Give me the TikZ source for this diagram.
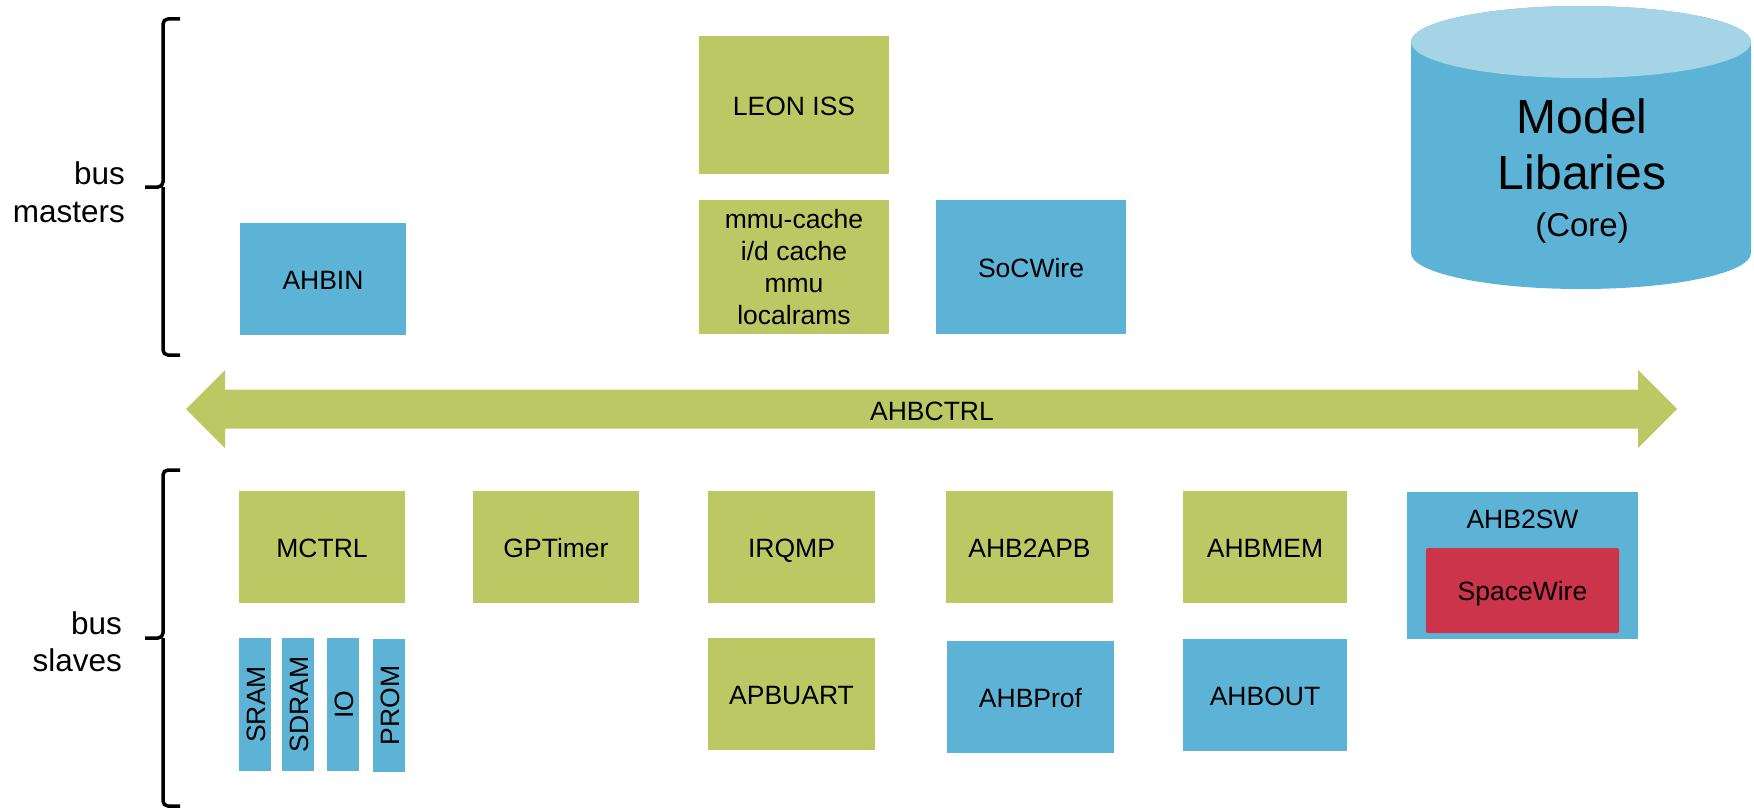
\documentclass[tikz,border=0pt]{standalone}
\usepackage{fontspec}
\setmainfont{Liberation Sans}
\definecolor{boxgreen}{RGB}{188,200,99}
\definecolor{boxblue}{RGB}{92,179,214}
\definecolor{boxred}{RGB}{204,52,76}
\definecolor{cyltop}{RGB}{164,212,229}
\tikzset{
  base/.style={inner sep=0pt, outer sep=0pt, font=\fontsize{26.5}{31.7}\selectfont},
  one/.style={base, text height=20pt, text depth=0pt},
  gbox/.style={one, fill=boxgreen},
  bbox/.style={one, fill=boxblue},
  brace/.style={draw=black, line width=3.5pt, rounded corners=5pt},
  sidelabel/.style={anchor=east, align=right, inner sep=0pt, font=\fontsize{31.5}{37.5}\selectfont}
}
\begin{document}
\begin{tikzpicture}[x=1pt,y=-1pt]
\useasboundingbox (0,0) rectangle (1754,808);

% bus masters
\node[gbox, minimum width=190, minimum height=138] (leon) at (794,105) {LEON ISS};
\node[base, fill=boxgreen, align=center, minimum width=190, minimum height=134] (mmu) at (794,267) {mmu-cache\\i/d cache\\mmu\\localrams};
\node[bbox, minimum width=190, minimum height=134] (socwire) at (1031,267) {SoCWire};
\node[bbox, minimum width=166, minimum height=112] (ahbin) at (323,279) {AHBIN};

% model libraries cylinder
\fill[boxblue] (1411,42) -- (1411,253) arc[start angle=180, end angle=0, x radius=170, y radius=36]
  -- (1751,42) arc[start angle=0, end angle=-180, x radius=170, y radius=36] -- cycle;
\fill[cyltop] (1581,42) ellipse[x radius=170, y radius=36];
\node[inner sep=0pt, align=center, font=\fontsize{48}{56}\selectfont] (modellib) at (1582,171.5)
  {Model\\Libaries\\[-9pt]{\fontsize{33}{40}\selectfont (Core)}};

% AHBCTRL bus arrow
\fill[boxgreen] (186,409) -- (225,370) -- (225,389.5) -- (1638,389.5) -- (1638,370) -- (1677,409)
  -- (1638,448) -- (1638,428.5) -- (225,428.5) -- (225,448) -- cycle;
\node[one] (ahbctrl) at (932,410) {AHBCTRL};

% bus slaves, first row
\node[gbox, minimum width=166, minimum height=112] (mctrl) at (322,547) {MCTRL};
\node[gbox, minimum width=166, minimum height=112] (gptimer) at (556,547) {GPTimer};
\node[gbox, minimum width=167, minimum height=112] (irqmp) at (791.5,547) {IRQMP};
\node[gbox, minimum width=167, minimum height=112] (ahb2apb) at (1029.5,547) {AHB2APB};
\node[gbox, minimum width=164, minimum height=112] (ahbmem) at (1265,547) {AHBMEM};
\node[base, fill=boxblue, minimum width=231, minimum height=147] (ahb2sw) at (1522.5,565.5) {};
\node[one] (ahb2swlbl) at (1522.5,518) {AHB2SW};
\node[one, fill=boxred, rounded corners=2pt, minimum width=193, minimum height=85] (spw) at (1522.5,590.5) {SpaceWire};

% bus slaves, second row
\node[bbox, rotate=90, minimum width=133, minimum height=32] (sram) at (255,704.5) {SRAM};
\node[bbox, rotate=90, minimum width=133, minimum height=32] (sdram) at (298,704.5) {SDRAM};
\node[bbox, rotate=90, minimum width=133, minimum height=32] (io) at (343,704.5) {IO};
\node[bbox, rotate=90, minimum width=133, minimum height=32] (prom) at (389,705.5) {PROM};
\node[gbox, minimum width=167, minimum height=112] (apbuart) at (791.5,694) {APBUART};
\node[bbox, minimum width=167, minimum height=112] (ahbprof) at (1030.5,697) {AHBProf};
\node[bbox, minimum width=164, minimum height=112] (ahbout) at (1265,695) {AHBOUT};

% braces and side labels
\draw[brace] (180,19) -- (163,19) -- (163,187) -- (145,187);
\draw[brace] (163,187) -- (163,355) -- (180,355);
\node[sidelabel] (masters) at (125,192) {bus\\masters};
\draw[brace] (180,470) -- (163,470) -- (163,638) -- (145,638);
\draw[brace] (163,638) -- (163,806) -- (180,806);
\node[sidelabel] (slaves) at (122,641.5) {bus\\slaves};
\end{tikzpicture}
\end{document}
